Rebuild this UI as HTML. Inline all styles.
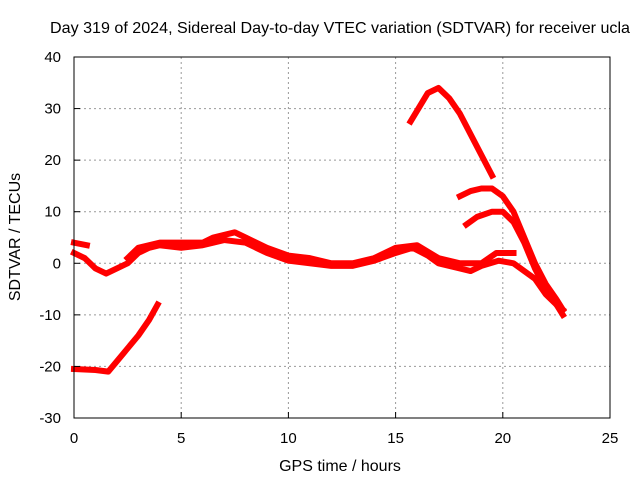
<!DOCTYPE html>
<html><head><meta charset="utf-8"><style>
body{margin:0;background:#fff;}
svg{display:block;font-family:"Liberation Sans",sans-serif;}
</style></head><body>
<svg id="chart" width="640" height="480" viewBox="0 0 640 480">
<rect width="640" height="480" fill="#fff"/>
<text x="340" y="33" font-size="16" text-anchor="middle" textLength="580" lengthAdjust="spacingAndGlyphs">Day 319 of 2024, Sidereal Day-to-day VTEC variation (SDTVAR) for receiver ucla</text>
<g id="grid"></g>
<g id="series"></g>
<rect x="74" y="57" width="536" height="361" fill="none" stroke="#000" stroke-width="1"/>
<g id="ticks"></g>
<text x="340" y="471" font-size="16" text-anchor="middle">GPS time / hours</text>
<text transform="translate(20,237) rotate(-90)" font-size="16" text-anchor="middle">SDTVAR / TECUs</text>
</svg>
<script>
const xTicks=[0,5,10,15,20,25];
const yTicks=[-30,-20,-10,0,10,20,30,40];
const seriesLower=[[0,2],[0.5,1],[1,-1],[1.5,-2],[2,-1],[2.5,0],[3,2],[3.5,3],[4,3.5],[5,3],[6,3.5],[7,4.5],[8,4],[9,2],[10,0.5],[11,0],[12,-0.5],[13,-0.5],[14,0.5],[15,2],[15.8,3],[16.5,1.5],[17,0],[18,-1],[18.5,-1.5],[19,-0.5],[19.8,0.5],[20.5,0],[21,-1.5],[21.5,-3],[22,-6],[22.5,-8],[22.8,-9]];
const seriesUpperStart=[[0,4],[0.6,3.5]];
const seriesUpper=[[2.5,1],[3,3],[4,4],[5,4],[6,4],[6.5,5],[7,5.5],[7.5,6],[8,5],[9,3],[10,1.5],[11,1],[12,0],[13,0],[14,1],[15,3],[16,3.5],[17,1],[18,0],[19,0],[19.7,2],[20.5,2]];
const seriesLow=[[0,-20.5],[1,-20.7],[1.6,-21],[2,-19],[3,-14],[3.5,-11],[3.9,-8]];
const seriesPeak=[[15.7,27.5],[16.5,33],[17,34],[17.5,32],[18,29],[18.5,25],[19,21],[19.5,17]];
const seriesMid=[[18,13],[18.5,14],[19,14.5],[19.5,14.5],[20,13],[20.5,10],[21,5],[21.5,0],[22,-4],[22.5,-7],[22.8,-9]];
const seriesMid2=[[18.3,7.5],[18.8,9],[19.5,10],[20,10],[20.5,8],[21,4],[21.5,-1],[22,-5],[22.5,-8],[22.8,-10]];
const NS="http://www.w3.org/2000/svg";
const X=h=>74+h*(536/25);
const Y=v=>57+(40-v)*(361/70);
const grid=document.getElementById('grid'),ticks=document.getElementById('ticks'),ser=document.getElementById('series');
function mk(tag,attrs,parent){const e=document.createElementNS(NS,tag);for(const k in attrs)e.setAttribute(k,attrs[k]);parent.appendChild(e);return e;}
xTicks.forEach(t=>{
  if(t>0&&t<25){const g=mk('line',{x1:X(t),x2:X(t),y1:57,y2:418,stroke:'#999','stroke-dasharray':'2,3'},grid);
  
  }
  const tk=mk('line',{x1:X(t),x2:X(t),y1:418,y2:412,stroke:'#000'},ticks);
  
  
  const tx=mk('text',{x:X(t),y:443,'font-size':15,'text-anchor':'middle'},ticks);tx.textContent=t;
  
  
});
yTicks.forEach(t=>{
  if(t>-30&&t<40){const g=mk('line',{x1:74,x2:610,y1:Y(t),y2:Y(t),stroke:'#999','stroke-dasharray':'2,3'},grid);
  
  }
  const tk=mk('line',{x1:74,x2:80,y1:Y(t),y2:Y(t),stroke:'#000'},ticks);
  
  
  const tx=mk('text',{x:61,y:Y(t)+5,'font-size':15,'text-anchor':'end'},ticks);tx.textContent=t;
  
  
});
[seriesLower,seriesUpperStart,seriesUpper,seriesLow,seriesPeak,seriesMid,seriesMid2].forEach(s=>{
  const p=mk('polyline',{points:s.map(d=>X(d[0])+','+Y(d[1])).join(' '),fill:'none',stroke:'#f00','stroke-width':6,'stroke-linejoin':'round','stroke-linecap':'square'},ser);
  
  
});
</script>
</body></html>
